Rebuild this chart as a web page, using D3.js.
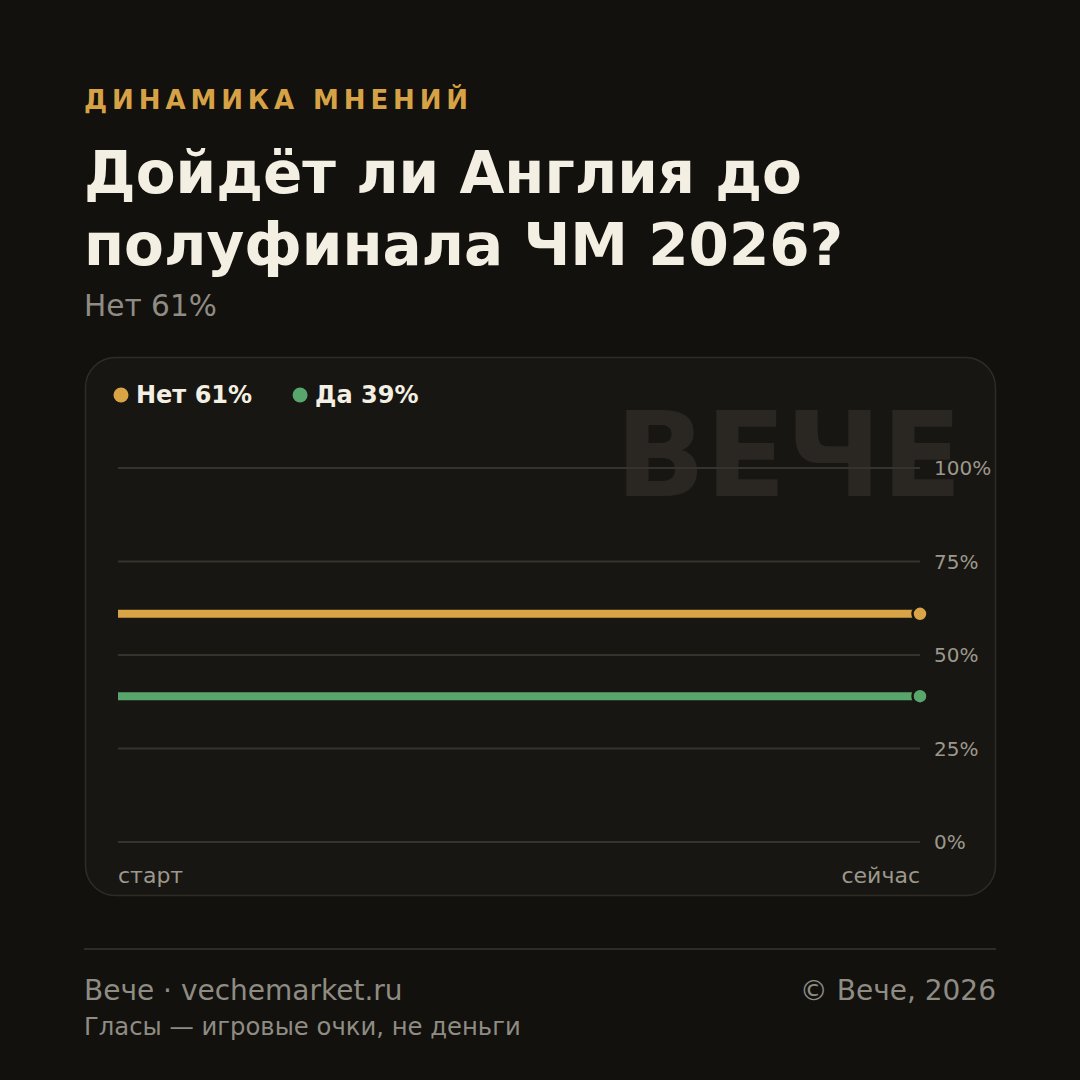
<!DOCTYPE html>
<html lang="ru">
<head>
<meta charset="UTF-8">
<script src="https://d3js.org/d3.v7.min.js"></script>
<style>
  html, body { margin: 0; padding: 0; background: #12110e; }
  svg { display: block; }
</style>
</head>
<body>
<script>
// data
const points = ["старт", "сейчас"];
const seriesNames = ["Нет", "Да"];
const seriesValues = [[61, 61], [39, 39]];
const seriesColors = ["#d8a446", "#58a66c"];
const yTicks = [0, 25, 50, 75, 100];

const W = 1080, H = 1080;
const svg = d3.select("body").append("svg")
  .attr("width", W).attr("height", H)
  .style("font-family", "DejaVu Sans, sans-serif");

svg.append("rect").attr("width", W).attr("height", H).attr("fill", "#12110e");

// header
svg.append("text").attr("x", 84).attr("y", 109)
  .attr("font-size", 26).attr("font-weight", "bold").attr("letter-spacing", 4.9)
  .attr("fill", "#d6a245").text("ДИНАМИКА МНЕНИЙ");

svg.append("text").attr("x", 84).attr("y", 193)
  .attr("font-size", 58).attr("font-weight", "bold").attr("fill", "#f3efe3")
  .text("Дойдёт ли Англия до");
svg.append("text").attr("x", 84).attr("y", 265)
  .attr("font-size", 58).attr("font-weight", "bold").attr("fill", "#f3efe3")
  .text("полуфинала ЧМ 2026?");

svg.append("text").attr("x", 84).attr("y", 316)
  .attr("font-size", 29.6).attr("fill", "#8f8c83")
  .text(`${seriesNames[0]} ${seriesValues[0][1]}%`);

// card
svg.append("rect").attr("x", 85.5).attr("y", 357.5).attr("width", 910).attr("height", 538)
  .attr("rx", 30).attr("fill", "#181612").attr("stroke", "#2f2c26").attr("stroke-width", 1.5);

// watermark
svg.append("text").attr("x", 962).attr("y", 496).attr("text-anchor", "end")
  .attr("font-size", 118).attr("font-weight", "bold").attr("fill", "#2a2722")
  .text("ВЕЧЕ");

// legend
let lx = 121;
seriesNames.forEach((n, i) => {
  svg.append("circle").attr("cx", lx).attr("cy", 395).attr("r", 7.5).attr("fill", seriesColors[i]);
  const t = svg.append("text").attr("x", lx + 15).attr("y", 403)
    .attr("font-size", 24).attr("font-weight", "bold").attr("fill", "#f3efe3")
    .text(`${n} ${seriesValues[i][1]}%`);
  lx += t.node().getComputedTextLength() + 63;
});

// scales
const x = d3.scalePoint().domain(points).range([118, 920]);
const y = d3.scaleLinear().domain([0, 100]).range([842, 468]);

const grid = svg.append("g");
grid.selectAll("line").data(yTicks).join("line")
  .attr("x1", 118).attr("x2", 920)
  .attr("y1", d => y(d)).attr("y2", d => y(d))
  .attr("stroke", "#36332c").attr("stroke-width", 2);
grid.selectAll("text").data(yTicks).join("text")
  .attr("x", 934).attr("y", d => y(d) + 7)
  .attr("font-size", 20).attr("fill", "#9c988c")
  .text(d => d + "%");

// lines
const line = d3.line().x((d, i) => x(points[i])).y(d => y(d));
seriesValues.forEach((vals, i) => {
  svg.append("path").datum(vals).attr("d", line)
    .attr("fill", "none").attr("stroke", seriesColors[i]).attr("stroke-width", 8);
  svg.append("circle").attr("cx", x(points[points.length - 1])).attr("cy", y(vals[vals.length - 1]))
    .attr("r", 7.5).attr("fill", seriesColors[i]).attr("stroke", "#181612").attr("stroke-width", 2.5);
});

// x labels
svg.append("text").attr("x", x(points[0])).attr("y", 883)
  .attr("font-size", 22).attr("fill", "#9c988c").text(points[0]);
svg.append("text").attr("x", x(points[1])).attr("y", 883).attr("text-anchor", "end")
  .attr("font-size", 22).attr("fill", "#9c988c").text(points[1]);

// footer
svg.append("line").attr("x1", 84).attr("x2", 996).attr("y1", 949).attr("y2", 949)
  .attr("stroke", "#2f2c26").attr("stroke-width", 2);
svg.append("text").attr("x", 84).attr("y", 1000)
  .attr("font-size", 28).attr("fill", "#8f8c83").text("Вече · vechemarket.ru");
svg.append("text").attr("x", 996).attr("y", 1000).attr("text-anchor", "end")
  .attr("font-size", 28).attr("fill", "#8f8c83").text("© Вече, 2026");
svg.append("text").attr("x", 84).attr("y", 1035)
  .attr("font-size", 24.3).attr("fill", "#8f8c83").text("Гласы — игровые очки, не деньги");
</script>
</body>
</html>
